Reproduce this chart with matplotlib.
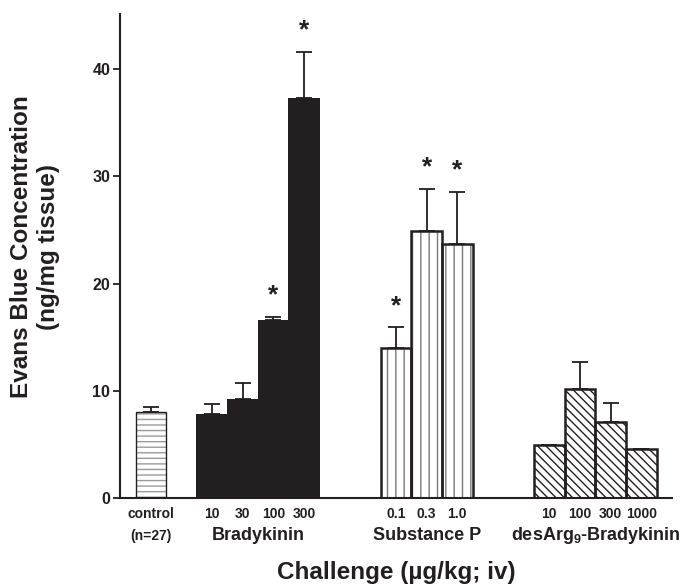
import numpy as np
import matplotlib
matplotlib.use('Agg')
import matplotlib.pyplot as plt
from matplotlib.transforms import blended_transform_factory

plt.rcParams['font.family'] = ['Liberation Sans', 'DejaVu Sans']
plt.rcParams['font.weight'] = 'bold'
plt.rcParams['mathtext.fontset'] = 'custom'
plt.rcParams['mathtext.rm'] = 'Liberation Sans:bold'
plt.rcParams['mathtext.bf'] = 'Liberation Sans:bold'
plt.rcParams['mathtext.default'] = 'bf'
plt.rcParams['hatch.linewidth'] = 1.0

INK = '#231f20'

# valeurs (ng/mg tissue)
control_val = [8.0]
control_err = [0.5]

bk_doses = ['10', '30', '100', '300']
bk_vals = [7.8, 9.2, 16.6, 37.3]
bk_errs = [1.0, 1.5, 0.3, 4.3]
bk_sig = [False, False, True, True]

sp_doses = ['0.1', '0.3', '1.0']
sp_vals = [14.0, 24.9, 23.7]
sp_errs = [1.9, 3.9, 4.8]
sp_sig = [True, True, True]

des_doses = ['10', '100', '300', '1000']
des_vals = [4.9, 10.2, 7.1, 4.6]
des_errs = [0.0, 2.5, 1.8, 0.0]

group_names = ['Bradykinin', 'Substance P', r'desArg$_9$-Bradykinin']

# positions des barres (une unite = une largeur de barre)
x_ctrl = np.array([1.0])
x_bk = np.arange(4) + 3.0
x_sp = np.arange(3) + 9.0
x_des = np.arange(4) + 14.0

fig = plt.figure(figsize=(6.88, 5.85), dpi=100)
ax = fig.add_axes([120/688, 87/585, 552/688, 484/585])


def upper_err(x, vals, errs):
    ax.errorbar(x, vals, yerr=[np.zeros(len(errs)), errs], fmt='none',
                ecolor=INK, elinewidth=1.3, capsize=6, capthick=1.3, zorder=1)


# control : lignes horizontales grises
upper_err(x_ctrl, control_val, control_err)
ax.bar(x_ctrl, control_val, width=0.98, color='white', edgecolor='#9a9a9a',
       hatch='---', linewidth=0, zorder=2)
ax.bar(x_ctrl, control_val, width=0.98, fill=False, edgecolor=INK,
       linewidth=1.0, zorder=3)

# bradykinin : noir plein
upper_err(x_bk, bk_vals, bk_errs)
ax.bar(x_bk, bk_vals, width=1.02, color=INK, linewidth=0, zorder=2)

# substance P : lignes verticales
upper_err(x_sp, sp_vals, sp_errs)
ax.bar(x_sp, sp_vals, width=1.0, color='white', edgecolor='#7a7a7a',
       hatch='||', linewidth=0, zorder=2)
ax.bar(x_sp, sp_vals, width=1.0, fill=False, edgecolor=INK,
       linewidth=1.8, zorder=3)

# desArg9-bradykinin : hachures diagonales
upper_err(x_des, des_vals, des_errs)
ax.bar(x_des, des_vals, width=1.0, color='white', edgecolor=INK,
       hatch='\\\\\\\\', linewidth=0, zorder=2)
ax.bar(x_des, des_vals, width=1.0, fill=False, edgecolor=INK,
       linewidth=1.8, zorder=3)

# etoiles de significativite
for xs, vs, es, sig in [(x_bk, bk_vals, bk_errs, bk_sig),
                        (x_sp, sp_vals, sp_errs, sp_sig)]:
    for x, v, e, s in zip(xs, vs, es, sig):
        if s:
            ax.text(x, v + e + 0.9, '*', ha='center', va='bottom',
                    fontsize=19, color=INK)

ax.set_xlim(0, 18)
ax.set_ylim(0, 45.13)
ax.set_yticks([0, 10, 20, 30, 40])
ax.set_xticks([])
ax.tick_params(axis='y', direction='out', length=5, width=1.3, pad=2,
               labelsize=11.5, colors=INK)
for t in ax.get_yticklabels():
    t.set_fontweight('bold')
for side in ['top', 'right']:
    ax.spines[side].set_visible(False)
for side in ['left', 'bottom']:
    ax.spines[side].set_linewidth(1.5)
    ax.spines[side].set_color(INK)

trans = blended_transform_factory(ax.transData, ax.transAxes)
y_dose = (498 - 514) / 484
y_group = (498 - 536) / 484

ax.text(x_ctrl[0], y_dose, 'control', transform=trans, ha='center', va='center',
        fontsize=10, color=INK)
ax.text(x_ctrl[0], y_group, '(n=27)', transform=trans, ha='center', va='center',
        fontsize=10, color=INK)

for xs, doses, name in [(x_bk, bk_doses, group_names[0]),
                        (x_sp, sp_doses, group_names[1]),
                        (x_des, des_doses, group_names[2])]:
    for x, d in zip(xs, doses):
        ax.text(x, y_dose, d, transform=trans, ha='center', va='center',
                fontsize=10, color=INK)
    ax.text(xs.mean(), y_group, name, transform=trans, ha='center', va='center',
            fontsize=13, color=INK)

ax.text(0.5, (498 - 572) / 484, 'Challenge (µg/kg; iv)', transform=ax.transAxes,
        ha='center', va='center', fontsize=17.5, color=INK)

fig.text(35/688, 1 - 247/585, 'Evans Blue Concentration\n(ng/mg tissue)',
         rotation=90, ha='center', va='center', multialignment='center',
         fontsize=17.5, linespacing=1.25, color=INK)

fig.savefig('out.png', dpi=100)
